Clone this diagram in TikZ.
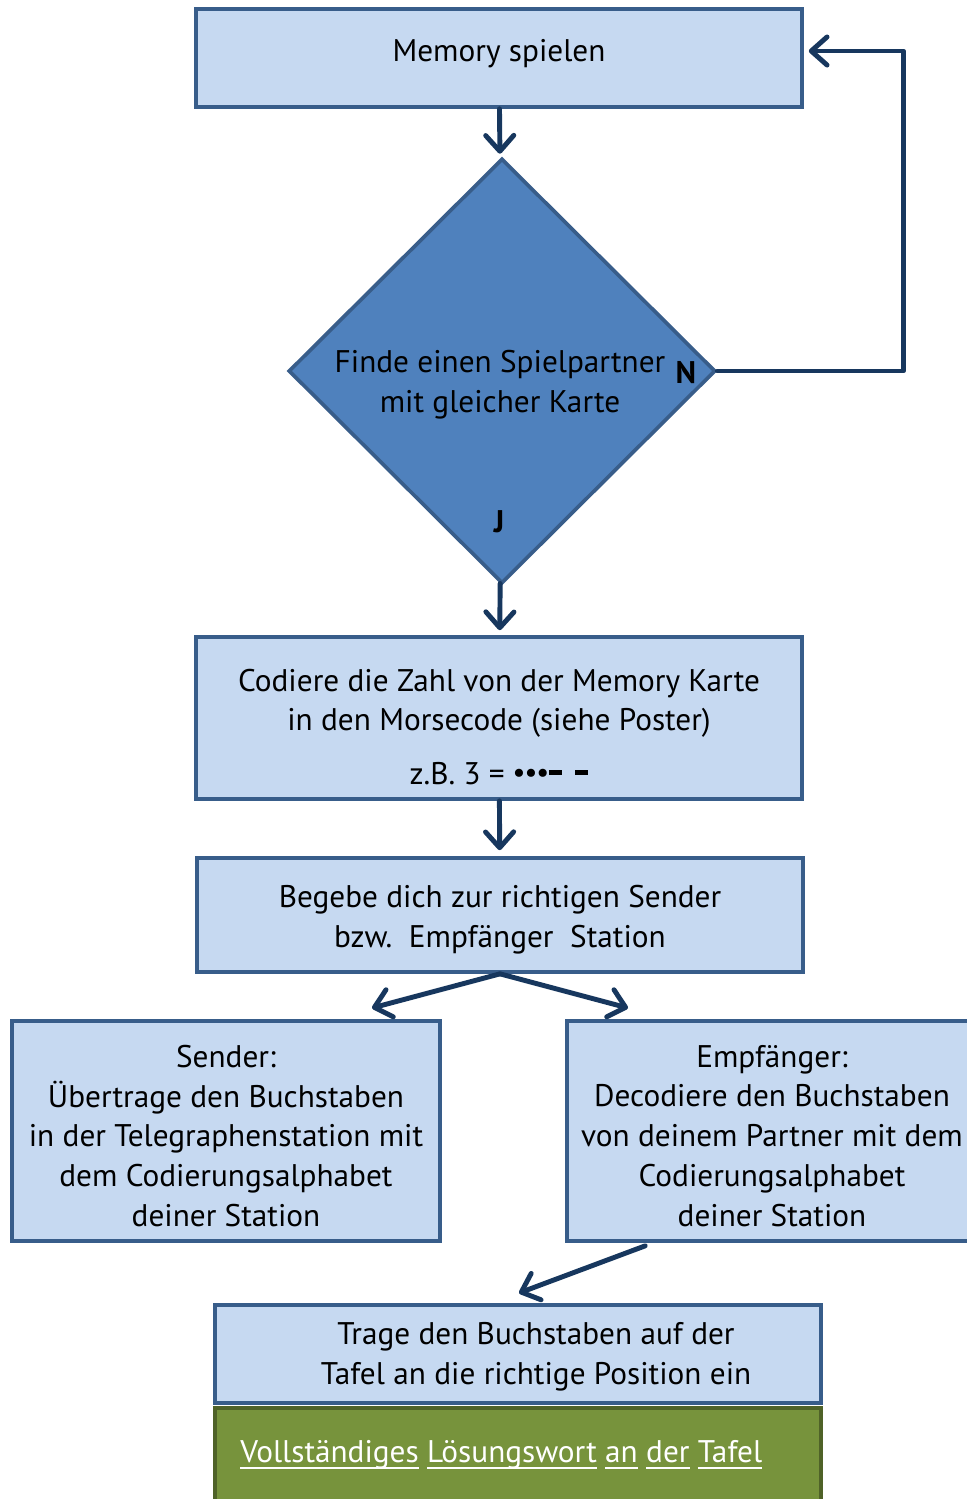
\documentclass[tikz,border=0pt]{standalone}
\usepackage{fontspec}
\setmainfont{PT Sans}
\usetikzlibrary{shapes.geometric,arrows.meta,calc}

\definecolor{boxfill}{HTML}{C6D9F1}
\definecolor{boxline}{HTML}{385D8A}
\definecolor{decfill}{HTML}{4F81BD}
\definecolor{arrcol}{HTML}{17375E}
\definecolor{donefill}{HTML}{77933C}
\definecolor{doneline}{HTML}{4F6228}

\newlength\ulwidth
\newcommand\ulword[1]{\settowidth\ulwidth{#1}\rlap{\rule[-3.5pt]{\ulwidth}{1.1pt}}#1}
\newcommand\morsedash{\rule[5.5pt]{7.5pt}{2.8pt}}

\tikzset{
  stepbox/.style={draw=boxline, fill=boxfill, line width=2.1pt, inner sep=0pt},
  decbox/.style={shape=diamond, draw=boxline, fill=decfill, line width=2.1pt, inner sep=0pt},
  donebox/.style={draw=doneline, fill=donefill, line width=2.1pt, inner sep=0pt},
  steptext/.style={align=center, inner sep=0pt},
  flow/.style={draw=arrcol, line width=2.8pt, line cap=round, line join=round,
    -{Straight Barb[length=9pt,width=16pt,round]}},
}

\begin{document}
\begin{tikzpicture}[x=0.02cm,y=-0.02cm,font=\fontsize{17.8}{22.7}\selectfont]
  \useasboundingbox (0,0) rectangle (967,1499);
  \clip (0,0) rectangle (967,1499);

  % boxes
  \node[stepbox, minimum width=12.12cm, minimum height=1.96cm] (mem) at (499,58) {};
  \node[steptext] (memtext) at (499,54) {Memory spielen};
  \node[decbox, minimum width=8.54cm, minimum height=8.5cm] (dec) at (502,371) {};
  \node[steptext] (dectext) at (500,385) {Finde einen Spielpartner\\mit gleicher Karte};
  \node[font=\fontsize{17.8}{22.7}\selectfont\bfseries] (no) at (686,373) {N};
  \node[font=\fontsize{17.8}{22.7}\selectfont\bfseries] (yes) at (499,522) {J};
  \node[stepbox, minimum width=12.12cm, minimum height=3.24cm] (code) at (499,718) {};
  \node[steptext] (codetext) at (499,727)
    {Codiere die Zahl von der Memory Karte\\in den Morsecode (siehe Poster)\\[8pt]
     z.B. 3 = \raisebox{2pt}{\fontsize{15}{15}\selectfont\bfseries •••}\morsedash\hspace{7.5pt}\morsedash};
  \node[stepbox, minimum width=12.12cm, minimum height=2.28cm] (go) at (500,915) {};
  \node[steptext] (gotext) at (500,920)
    {Begebe dich zur richtigen Sender\\bzw.\ \ Empfänger\ \ Station};
  \node[stepbox, minimum width=8.56cm, minimum height=4.4cm] (send) at (226,1131) {};
  \node[steptext] (sendtext) at (226,1136)
    {Sender:\\Übertrage den Buchstaben\\in der Telegraphenstation mit\\dem Codierungsalphabet\\deiner Station};
  \node[stepbox, minimum width=8.2cm, minimum height=4.4cm] (recv) at (772,1131) {};
  \node[steptext] (recvtext) at (772,1136)
    {Empfänger:\\Decodiere den Buchstaben\\von deinem Partner mit dem\\Codierungsalphabet\\deiner Station};
  \node[stepbox, minimum width=12.12cm, minimum height=1.96cm] (board) at (518,1354) {};
  \node[steptext] (boardtext) at (536,1357) {Trage den Buchstaben auf der\\Tafel an die richtige Position ein};
  \node[donebox, minimum width=12.12cm, minimum height=2.08cm] (done) at (518,1460) {};
  \node[anchor=west, text=white, inner sep=0pt] (donetext) at (240,1455)
    {\ulword{Vollständiges} \ulword{Lösungswort} \ulword{an} \ulword{der} \ulword{Tafel}};

  % connectors
  \coordinate (tosend) at (372,1008);
  \coordinate (torecv) at (628,1008);
  \coordinate (toboard) at (519,1293);
  \draw[flow, shorten >=0.1cm] (mem) -- (dec);
  \draw[flow] (dec.east) -- ++(186,0) |- ($(mem.east)+(5,-7)$);
  \draw[flow, shorten >=0.1cm] (dec) -- (code);
  \draw[flow, shorten >=0.12cm] (code) -- (go);
  \draw[flow] (go.south) -- (tosend);
  \draw[flow] (go.south) -- (torecv);
  \draw[flow] ($(recv.south west)+(80,3)$) -- (toboard);
\end{tikzpicture}
\end{document}
